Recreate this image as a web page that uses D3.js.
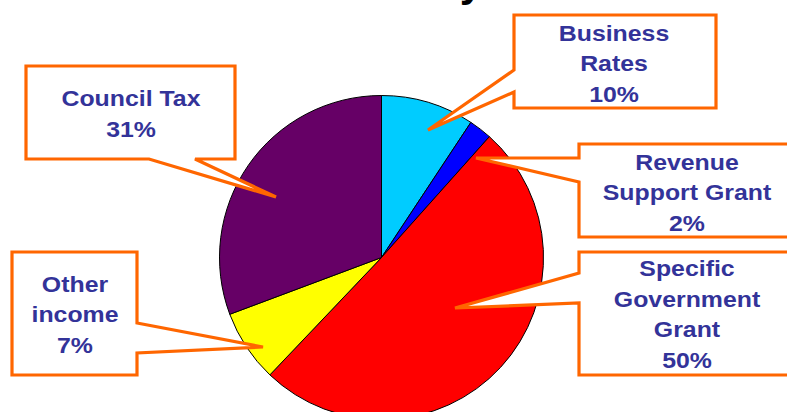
<!DOCTYPE html>
<html>
<head>
<meta charset="utf-8">
<script src="https://cdn.jsdelivr.net/npm/d3@7"></script>
<style>
  html, body { margin: 0; padding: 0; background: #fff; }
  svg { display: block; }
  .label { font-family: "Liberation Sans", Arial, sans-serif; font-weight: bold; font-size: 22px; fill: #333399; }
  .title { font-family: "Liberation Sans", Arial, sans-serif; font-weight: bold; font-size: 42px; fill: #000; }
</style>
</head>
<body>
<div id="app"></div>
<script>
// ---------- Data ----------

const categories = ["Business Rates", "Revenue Support Grant", "Specific Government Grant", "Other income", "Council Tax"];
// slice sizes as measured on the picture (percent)
const values = [9.3, 2.3, 50.5, 7.2, 30.7];
// printed labels
const percentLabels = ["10%", "2%", "50%", "7%", "31%"];
const labelLines = [
    ["Business", "Rates"],
    ["Revenue", "Support Grant"],
    ["Specific", "Government", "Grant"],
    ["Other", "income"],
    ["Council Tax"]
];
const colors = ["#00CCFF", "#0000FF", "#FF0000", "#FFFF00", "#660066"];

const TITLE = "Where the money comes from";

// ---------- Layout ----------

const WIDTH = 787;
const HEIGHT = 412;
const CX = 381.5;
const CY = 257.5;
const RADIUS = 162;
const LINE_GAP = 30.7;
const TEXT_STRETCH = 1.13;

// callout boxes: box rect, where the pointer leaves it, tip (relative to pie centre), text centre / first baseline
const callouts = [
    { box: [514, 15, 716, 108], side: "left", a: 70, b: 92, tip: [46.5, -127.5], tx: 614, ty: 40.7 },
    { box: [579, 144, 800, 237], side: "left", a: 158, b: 182, tip: [94.5, -99.5], tx: 687, ty: 169.5 },
    { box: [579, 252, 800, 375], side: "left", a: 273, b: 303, tip: [73.5, 50.5], tx: 687, ty: 276 },
    { box: [12, 252, 137, 375], side: "right", a: 323, b: 353, tip: [-118.5, 89.5], tx: 75, ty: 291.7 },
    { box: [26, 66, 235, 159], side: "bottom", a: 149, b: 195, tip: [-105.5, -60.5], tx: 131, ty: 106 }
];

function calloutPoints(c) {
    const [x0, y0, x1, y1] = c.box;
    const tip = [CX + c.tip[0], CY + c.tip[1]];
    if (c.side === "left")
        return [[x0, y0], [x1, y0], [x1, y1], [x0, y1], [x0, c.b], tip, [x0, c.a]];
    if (c.side === "right")
        return [[x0, y0], [x1, y0], [x1, c.a], tip, [x1, c.b], [x1, y1], [x0, y1]];
    // bottom
    return [[x0, y0], [x1, y0], [x1, y1], [c.b, y1], tip, [c.a, y1], [x0, y1]];
}

// ---------- Main ----------

function main() {
    const svg = d3.select("#app")
        .append("svg")
        .attr("width", WIDTH)
        .attr("height", HEIGHT);

    // title, mostly cut off by the top edge (only the tail of the "y" shows)
    svg.append("text")
        .attr("class", "title")
        .attr("x", 433)
        .attr("y", -4)
        .attr("text-anchor", "middle")
        .text(TITLE);

    // pie
    const pie = d3.pie().sort(null).value(d => d);
    const arc = d3.arc().innerRadius(0).outerRadius(RADIUS);

    svg.append("g")
        .attr("transform", `translate(${CX}, ${CY})`)
        .selectAll("path")
        .data(pie(values))
        .enter()
        .append("path")
        .attr("d", arc)
        .attr("fill", (d, i) => colors[i])
        .attr("stroke", "#000")
        .attr("stroke-width", 1);

    // callouts
    const line = d3.line().curve(d3.curveLinearClosed);
    const groups = svg.selectAll("g.callout")
        .data(categories)
        .enter()
        .append("g")
        .attr("class", "callout");

    groups.append("path")
        .attr("d", (d, i) => line(calloutPoints(callouts[i])))
        .attr("fill", "#fff")
        .attr("stroke", "#FF6600")
        .attr("stroke-width", 3.2)
        .attr("stroke-linejoin", "miter");

    groups.each(function(d, i) {
        const c = callouts[i];
        const lines = labelLines[i].concat([percentLabels[i]]);
        lines.forEach((t, k) => {
            d3.select(this).append("text")
                .attr("class", "label")
                .attr("text-anchor", "middle")
                .attr("transform", `translate(${c.tx}, ${c.ty + k * LINE_GAP}) scale(${TEXT_STRETCH}, 1)`)
                .text(t);
        });
    });
}

main();
</script>
</body>
</html>
